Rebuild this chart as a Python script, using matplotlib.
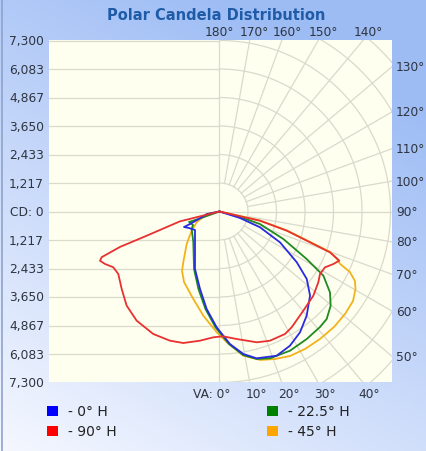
import numpy as np
import matplotlib
matplotlib.use("Agg")
import matplotlib.pyplot as plt
from matplotlib.patches import Rectangle

# ---------------- data ----------------
title = "Polar Candela Distribution"
cd_max = 7300
cd_ticks = ["7,300", "6,083", "4,867", "3,650", "2,433", "1,217", "CD: 0",
            "1,217", "2,433", "3,650", "4,867", "6,083", "7,300"]
top_angles = [180, 170, 160, 150, 140]
right_angles = [130, 120, 110, 100, 90, 80, 70, 60, 50]
bottom_angles = [0, 10, 20, 30, 40]

series_names = ["- 0\u00b0 H", "- 90\u00b0 H", "- 22.5\u00b0 H", "- 45\u00b0 H"]
series_colors = ["#2a2ae0", "#e83030", "#1f8a1f", "#f2b21c"]
legend_colors = ["#0000ff", "#ff0000", "#008000", "#ffa500"]

# vertical angle (deg, 0 = nadir, negative = left side), candela
ang_0 = [-80, -78.7, -69.3, -67.0, -66.4, -61.6, -53.0, -38.5, -23.1, -14.1, -7.5, -1.4,
         4.5, 9.5, 14.2, 21.6, 27.7, 33.7, 39.9, 47.1, 52.3, 56.7, 63.0, 68.7, 72.4, 76]
cd_0 = [0, 545, 1028, 1368, 1654, 1481, 1311, 1680, 2668, 3412, 4198, 4945,
        5675, 6168, 6465, 6623, 6471, 6197, 5800, 5277, 4707, 3945, 2898, 1856, 918, 0]

ang_90 = [-80, -76, -71.6, -70.4, -68.8, -67.6, -65.4, -62.3, -58.3, -51.6, -44.6, -37.2,
          -28.4, -21.0, -15.4, -8.6, -2.8, 1.6, 7.7, 15.9, 21.3, 28.1, 31.9, 40.2, 48.1,
          54.4, 58.1, 62.1, 65.2, 67.7, 69.7, 71.2, 74.1, 77.2, 80]
cd_90 = [0, 1745, 3275, 4510, 5395, 5517, 5378, 5122, 5078, 5327, 5645, 5850,
         5945, 5907, 5823, 5578, 5377, 5330, 5493, 5806, 5922, 5930, 5826, 5544, 5381,
         5189, 5052, 5095, 5350, 5529, 5029, 4081, 2984, 1773, 0]

ang_225 = [-80, -70.5, -71.0, -63.0, -57.8, -40.7, -23.9, -15.2, -8.2, -2.0, 4.1, 9.3,
           14.2, 19.0, 26.9, 34.4, 41.0, 44.9, 49.7, 53.8, 58.3, 61.4, 66.7, 72.8, 75.0, 80]
cd_225 = [0, 960, 1377, 1269, 1403, 1716, 2685, 3428, 4205, 4946, 5670, 6207,
          6494, 6628, 6661, 6595, 6536, 6481, 6221, 5844, 5211, 4239, 2966, 1809, 906, 0]

ang_45 = [-80, -78.9, -64.7, -55.4, -45.3, -35.5, -32.2, -26.7, -16.7, -8.8, -1.3, 3.2,
          9.4, 15.3, 20.6, 26.0, 31.9, 38.2, 44.8, 50.8, 56.2, 60.3, 62.8, 65.1, 66.5,
          68.0, 69.9, 71.4, 74.3, 77.4, 80]
cd_45 = [0, 556, 1077, 1442, 1971, 2663, 3002, 3370, 3898, 4502, 5158, 5592,
         6240, 6571, 6728, 6864, 6912, 6930, 6943, 6916, 6861, 6682, 6501, 6140, 5611,
         5410, 5029, 4081, 2984, 1773, 0]

# ---------------- figure ----------------
W, H = 427, 452
fig = plt.figure(figsize=(W / 100, H / 100), dpi=100)
plt.rcParams['font.family'] = ['DejaVu Sans']

# background gradient
bg = fig.add_axes([0, 0, 1, 1])
xx, yy = np.meshgrid(np.linspace(0, 1, W), np.linspace(0, 1, H))
t = np.clip(0.42 * xx + 0.78 * (1 - yy), 0, 1)[..., None]
blue = np.array([0.62, 0.74, 0.96])
white = np.array([0.96, 0.97, 1.0])
bg.imshow(white * (1 - t) + blue * t, aspect='auto', extent=[0, 1, 0, 1])
bg.set_xlim(0, 1); bg.set_ylim(0, 1)
bg.axis('off')
bg.plot([0.004, 0.004], [0, 1], color='#8ea3cc', lw=1.2)


def fbox(l, t_, r, b):
    return [l / W, 1 - b / H, (r - l) / W, (b - t_) / H]


L, T, Rr, B = 49, 41, 392, 383
cx, cy, S = 219.5, 212.5, 171.0
ax = fig.add_axes(fbox(L, T, Rr, B))
ax.set_facecolor('#fffff0')
ax.set_xlim(-(cx - L) / S * cd_max, (Rr - cx) / S * cd_max)
ax.set_ylim(-(B - cy) / S * cd_max, (cy - T) / S * cd_max)
for sp in ax.spines.values():
    sp.set_visible(False)
ax.set_xticks([]); ax.set_yticks([])
xmin, xmax = ax.get_xlim()
ymin, ymax = ax.get_ylim()

gc = '#dadacc'
glw = 0.9
step = cd_max / 6
# left half horizontal grid
for k in range(-6, 7):
    ax.plot([xmin, 0], [k * step, k * step], color=gc, lw=glw, zorder=1)
ax.plot([0, xmax], [0, 0], color=gc, lw=glw, zorder=1)
ax.plot([0, 0], [ymin, ymax], color=gc, lw=glw, zorder=1)
# right half arcs
th = np.linspace(-np.pi / 2, np.pi / 2, 400)
for k in range(1, 9):
    r = k * step
    ax.plot(r * np.cos(th), r * np.sin(th), color=gc, lw=glw, zorder=1)
# radial lines
for a in range(10, 180, 10):
    if a == 90:
        continue
    ar = np.radians(a)
    rr = np.array([step, 3 * cd_max])
    ax.plot(rr * np.sin(ar), -rr * np.cos(ar), color=gc, lw=glw, zorder=1)

# curves
curves = [(ang_0, cd_0), (ang_90, cd_90), (ang_225, cd_225), (ang_45, cd_45)]
order = [3, 2, 0, 1]
for i in order:
    a, c = curves[i]
    a = np.radians(np.array(a)); c = np.array(c, dtype=float)
    ax.plot(c * np.sin(a), -c * np.cos(a), color=series_colors[i], lw=1.3, zorder=3,
            solid_joinstyle='round')

tc = '#2e3440'
fs = 8.8
# left tick labels
for i, lbl in enumerate(cd_ticks):
    yv = cd_max - i * step
    ax.annotate(lbl, xy=(0, yv), xycoords=ax.get_yaxis_transform(), xytext=(-5, 0),
                textcoords='offset pixels', ha='right', va='center', fontsize=fs,
                color=tc, annotation_clip=False)
# right labels
for a in right_angles:
    yv = -xmax / np.tan(np.radians(a)) if a != 90 else 0.0
    ax.annotate(f"{a}\u00b0", xy=(1, yv), xycoords=ax.get_yaxis_transform(),
                xytext=(4, 0), textcoords='offset pixels', ha='left', va='center',
                fontsize=fs, color=tc, annotation_clip=False)
# top labels
for a in top_angles:
    xv = ymax * np.tan(np.radians(180 - a))
    off = 0 if a == 180 else 5
    ax.annotate(f"{a}\u00b0", xy=(xv, 1), xycoords=ax.get_xaxis_transform(),
                xytext=(off, 9), textcoords='offset pixels', ha='center', va='center',
                fontsize=fs, color=tc, annotation_clip=False)
# bottom labels
for a in bottom_angles:
    xv = -ymin * np.tan(np.radians(a))
    if a == 0:
        ax.annotate("VA: 0\u00b0", xy=(xv, 0), xycoords=ax.get_xaxis_transform(),
                    xytext=(11, -12), textcoords='offset pixels', ha='right',
                    va='center', fontsize=fs, color=tc, annotation_clip=False)
    else:
        ax.annotate(f"{a}\u00b0", xy=(xv, 0), xycoords=ax.get_xaxis_transform(),
                    xytext=(7, -12), textcoords='offset pixels', ha='center',
                    va='center', fontsize=fs, color=tc, annotation_clip=False)

# title
fig.text(216 / W, 1 - 16 / H, title, ha='center', va='center', fontsize=10.5,
         fontweight='bold', color='#1f5ca8')

# legend
pos = [(47, 407), (47, 427), (267, 407), (267, 427)]
for (px, py), name, col in zip(pos, series_names, legend_colors):
    fig.add_artist(Rectangle((px / W, 1 - (py + 10) / H), 11 / W, 10 / H,
                             transform=fig.transFigure, facecolor=col, edgecolor='none'))
    fig.text((px + 21) / W, 1 - (py + 5) / H, name, ha='left', va='center',
             fontsize=10, color='#222222')

fig.savefig("out.png", dpi=100)
